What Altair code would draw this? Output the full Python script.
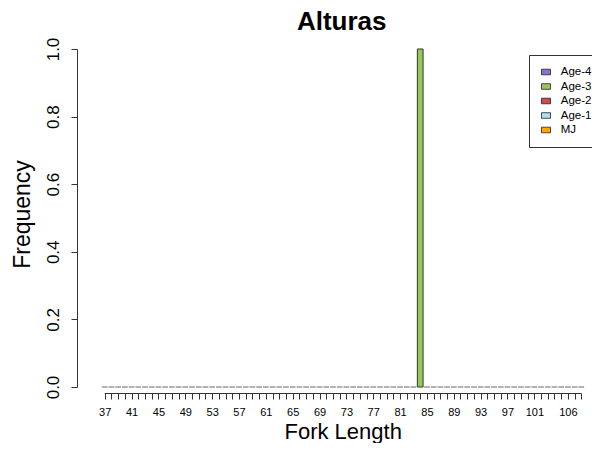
import altair as alt
import pandas as pd

# Fork length classes (x categories)
lengths = list(range(37, 109))

# Series (stack order / legend order)
series = ["Age-4", "Age-3", "Age-2", "Age-1", "MJ"]
colors = ["#8A6FD0", "#96C957", "#D04B4B", "#AEDDF6", "#FFA500"]

# Frequencies per series (one value per fork length, 37..108)
age4 = [0.0] * 72
age3 = [0.0] * 47 + [1.0] + [0.0] * 24   # 1.0 at length 84
age2 = [0.0] * 72
age1 = [0.0] * 72
mj = [0.0] * 72
values = {"Age-4": age4, "Age-3": age3, "Age-2": age2, "Age-1": age1, "MJ": mj}

# Tick labels that are printed on the x axis
shown_labels = [37, 41, 45, 49, 53, 57, 61, 65, 69, 73, 77, 81, 85, 89, 93, 97, 101, 106]
y_ticks = [0.0, 0.2, 0.4, 0.6, 0.8, 1.0]

rows = []
for s in series:
    for L, v in zip(lengths, values[s]):
        rows.append({"length": L, "series": s, "freq": v, "order": series.index(s)})
df = pd.DataFrame(rows)

FONT = "Liberation Sans"
W, H = 515, 338
STEP = 6.845                      # pixels per fork-length class
X0 = 37 - 23.2 / STEP             # domain start so that 37 sits 23px right of the y axis
X1 = X0 + W / STEP

label_expr = "indexof([" + ",".join(str(v) for v in shown_labels) + "], datum.value) >= 0 ? datum.label : ''"

x_scale = alt.Scale(domain=[X0, X1], nice=False, zero=False)
y_scale = alt.Scale(domain=[0, 1], nice=False, zero=True)

x_axis = alt.Axis(
    title="Fork Length", titleFont=FONT, titleFontSize=22, titleFontWeight="normal",
    titleColor="black", titleX=265.7, titleY=45, titleBaseline="alphabetic",
    titleAnchor="middle",
    values=lengths, format="d",
    labelExpr=label_expr, labelOverlap=False, labelFlush=False, labelBound=False,
    labelFont=FONT, labelFontSize=11, labelColor="black", labelAngle=0,
    labelAlign="center", labelBaseline="top", labelPadding=7,
    offset=6, tickSize=6, tickColor="#333", domain=False, grid=False,
)
y_axis = alt.Axis(
    title="Frequency", titleFont=FONT, titleFontSize=23, titleFontWeight="normal",
    titleColor="black", titleAngle=270, titleX=-47.7, titleY=165,
    titleBaseline="alphabetic", titleAlign="center",
    values=y_ticks, format=".1f", labelFont=FONT, labelFontSize=17, labelColor="black",
    labelAngle=270, labelAlign="center", labelBaseline="middle", labelPadding=17.5,
    labelFlush=False, tickSize=6, tickColor="#333", domainColor="#333", grid=False,
)

base = alt.Chart(df)

bars = base.transform_filter("datum.freq > 0").mark_bar(
    size=5.7, stroke="#333", strokeWidth=1
).encode(
    x=alt.X("length:Q", scale=x_scale, axis=x_axis),
    y=alt.Y("freq:Q", scale=y_scale, axis=y_axis, stack="zero"),
    color=alt.Color(
        "series:N",
        scale=alt.Scale(domain=series, range=colors),
        title=None,
        legend=alt.Legend(
            orient="none", legendX=452, legendY=6, padding=11.25, rowPadding=1.5,
            clipHeight=11.5, symbolSize=81,
            symbolType="M-1,-0.62L1,-0.62L1,0.62L-1,0.62Z",
            symbolStrokeColor="#222", symbolStrokeWidth=0.8, symbolOpacity=1,
            labelFont=FONT, labelFontSize=11.5, labelOffset=9, labelColor="black",
            strokeColor="#333", fillColor="white",
        ),
    ),
    order=alt.Order("order:Q"),
)

# zero-height bars appear as short horizontal segments on the baseline
zeros = base.transform_aggregate(
    total="sum(freq)", groupby=["length"]
).transform_filter("datum.total == 0").mark_tick(
    orient="horizontal", size=5.7, thickness=1, color="#666", opacity=1
).encode(
    x=alt.X("length:Q", scale=x_scale, axis=x_axis),
    y=alt.Y("total:Q", scale=y_scale, axis=y_axis),
)

# the x axis line runs from the first class to the last one
axis_line = base.mark_rule(color="#333", strokeWidth=1).encode(
    x=alt.X("min(length):Q", scale=x_scale, axis=x_axis),
    x2=alt.X2("max(length):Q"),
    y=alt.value(H + 6.5),
)

chart = alt.layer(bars, zeros, axis_line).properties(
    width=W, height=H,
    autosize=alt.AutoSizeParams(type="none"),
    padding={"left": 69, "top": 41, "right": 0, "bottom": 56},
    title=alt.TitleParams(
        "Alturas", font=FONT, fontSize=26, fontWeight="bold", color="black",
        anchor="middle", frame="group", offset=-19, baseline="alphabetic",
        dx=7.2,
    ),
).configure(background="white").configure_view(strokeWidth=0)

chart.save("out.html", embed_options={"renderer": "svg", "actions": False})
